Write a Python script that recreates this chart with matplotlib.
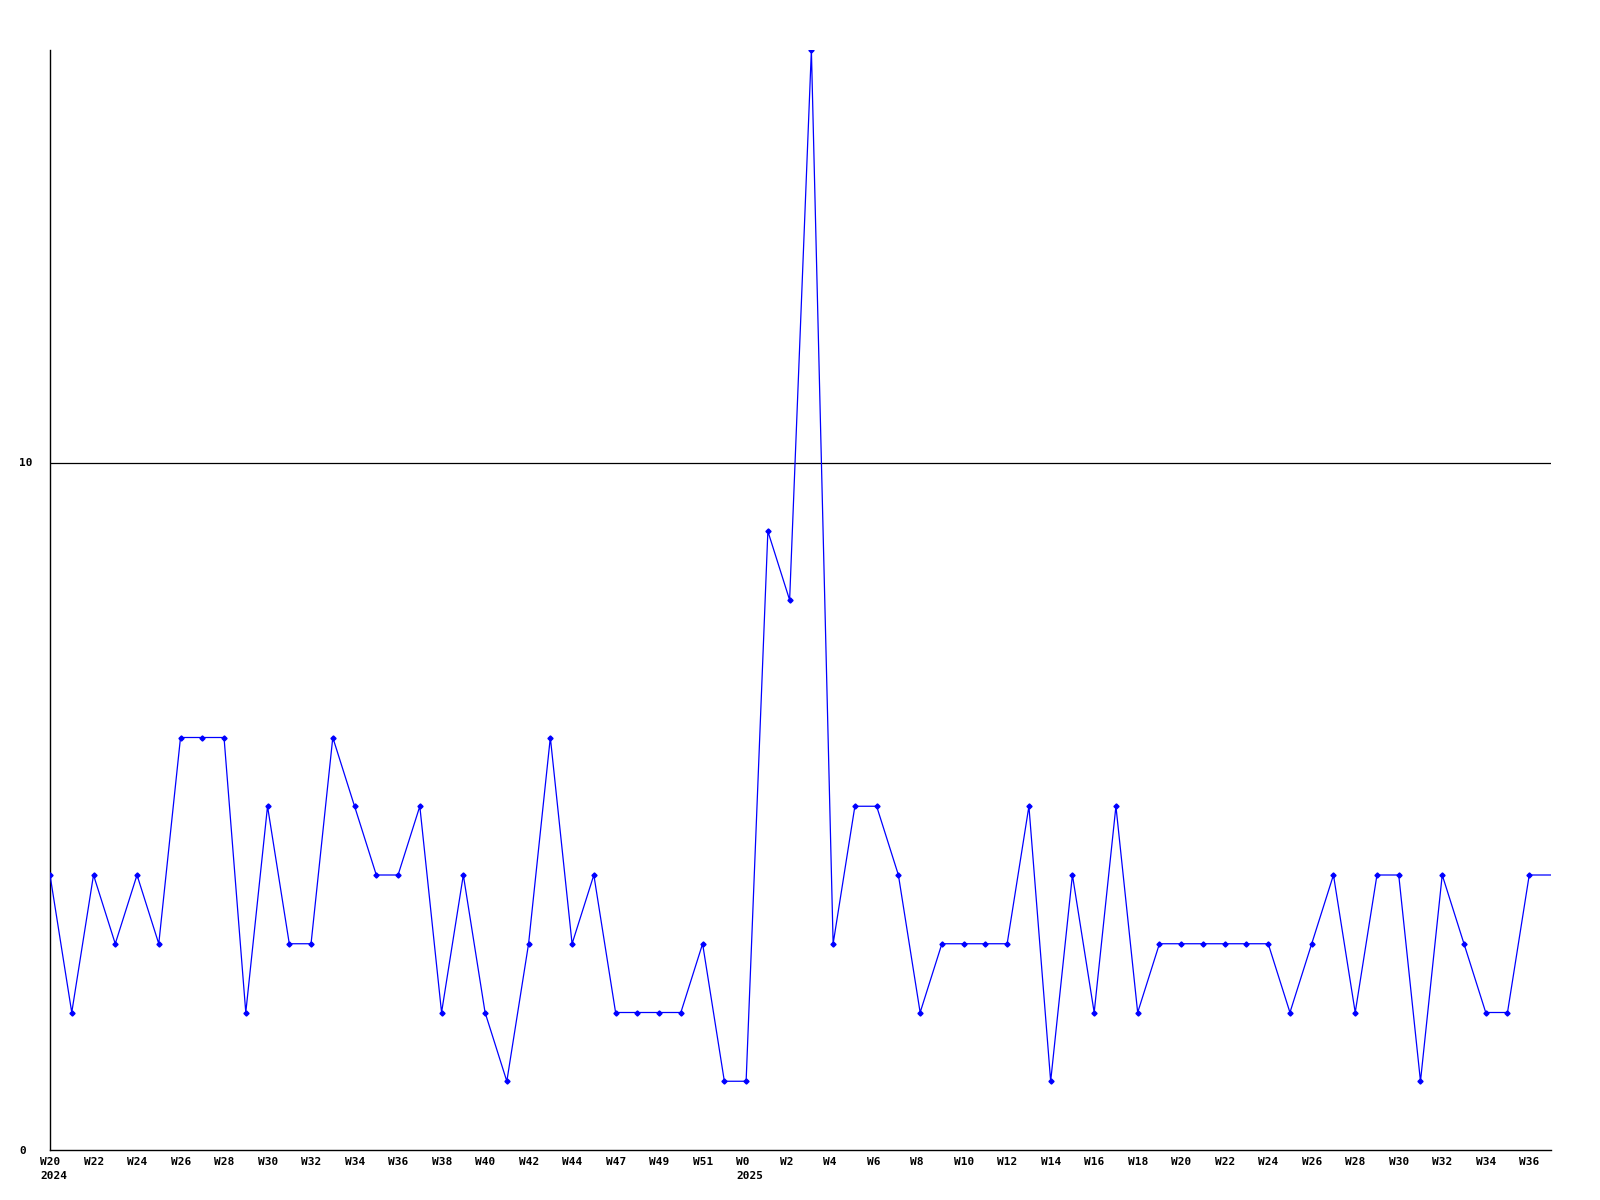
import matplotlib
matplotlib.use("Agg")
import matplotlib.pyplot as plt

values = [4, 2, 4, 3, 4, 3, 6, 6, 6, 2, 5, 3, 3, 6, 5, 4, 4, 5, 2, 4,
          2, 1, 3, 6, 3, 4, 2, 2, 2, 2, 3, 1, 1, 9, 8, 16, 3, 5, 5, 4,
          2, 3, 3, 3, 3, 5, 1, 4, 2, 5, 2, 3, 3, 3, 3, 3, 3, 2, 3, 4,
          2, 4, 4, 1, 4, 3, 2, 2, 4]
tick_labels = ["W20", "W22", "W24", "W26", "W28", "W30", "W32", "W34", "W36",
               "W38", "W40", "W42", "W44", "W47", "W49", "W51", "W0", "W2",
               "W4", "W6", "W8", "W10", "W12", "W14", "W16", "W18", "W20",
               "W22", "W24", "W26", "W28", "W30", "W32", "W34", "W36"]
year_labels = {0: "2024", 16: "2025"}  # tick index -> year
y_ticks = [0, 10]

W, H = 1600, 1200
fig = plt.figure(figsize=(16, 12), dpi=100)
ax = fig.add_axes([50 / W, 1 - 1150 / H, (1551 - 50) / W, (1150 - 50) / H])

xs = list(range(len(values)))
n = len(values)
# line continues to the right edge at the last value
ax.plot(xs + [n], values + [values[-1]], color=(0, 0, 1), lw=0.9, zorder=3)
ax.plot(xs, values, ls="none", marker="D", ms=2.6, color=(0, 0, 1), zorder=4)

ax.set_xlim(0, n)
ax.set_ylim(0, 16)

for s in ["top", "right"]:
    ax.spines[s].set_visible(False)
for s in ["left", "bottom"]:
    ax.spines[s].set_color("black")
    ax.spines[s].set_linewidth(1.0)

ax.axhline(10, color="black", lw=0.9, zorder=2)

font = dict(family="DejaVu Sans Mono", weight="bold", size=8)
tick_pos = [2 * i for i in range(len(tick_labels))]
ax.set_xticks(tick_pos)
ax.set_xticklabels([])
ax.tick_params(axis="x", length=0)

for i, lab in enumerate(tick_labels):
    ax.annotate(lab, xy=(tick_pos[i], 0), xycoords=("data", "axes fraction"),
                xytext=(-10, -7), textcoords="offset pixels",
                ha="left", va="top", **font)

ax.set_yticks(y_ticks)
ax.set_yticklabels([str(v) for v in y_ticks], **font)
ax.tick_params(axis="y", length=0, pad=22)
for lbl in ax.get_yticklabels():
    lbl.set_horizontalalignment("left")

for idx, yr in year_labels.items():
    ax.annotate(yr, xy=(tick_pos[idx], 0), xycoords=("data", "axes fraction"),
                xytext=(-10, -21), textcoords="offset pixels",
                ha="left", va="top", **font)

fig.savefig("out.png", dpi=100)
